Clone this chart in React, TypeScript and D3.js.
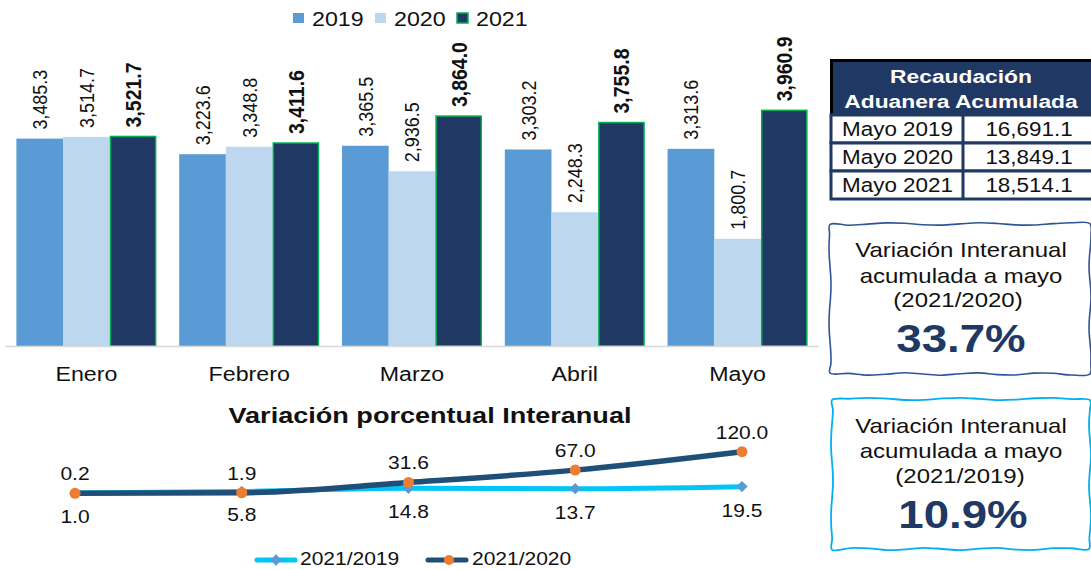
import * as d3 from "d3";

const MONTHS = ["Enero", "Febrero", "Marzo", "Abril", "Mayo"];
const YEARS = ["2019", "2020", "2021"];
const V2019 = [3485.3, 3223.6, 3365.5, 3303.2, 3313.6];
const V2020 = [3514.7, 3348.8, 2936.5, 2248.3, 1800.7];
const V2021 = [3521.7, 3411.6, 3864.0, 3755.8, 3960.9];

const VAR_2021_2019 = [1.0, 5.8, 14.8, 13.7, 19.5];
const VAR_2021_2020 = [0.2, 1.9, 31.6, 67.0, 120.0];

const TABLE_ROWS = ["Mayo 2019", "Mayo 2020", "Mayo 2021"];
const TABLE_VALUES = [16691.1, 13849.1, 18514.1];

const W = 1091;
const H = 569;
const FONT = "Arial, 'Liberation Sans', sans-serif";

const BAR_COLORS = ["#5b9bd5", "#bdd7ee", "#203864"];
const NAVY = "#203864";
const GREEN = "#00b050";
const CYAN = "#00c5f5";
const DARK_LINE = "#1f4e79";
const ORANGE = "#ed7d31";
const DIAMOND = "#5b9bd5";

const fmt = d3.format(",.1f");

// the source image is slightly stretched sideways, so text gets a horizontal scale
function T(props: {
  x: number;
  y: number;
  size: number;
  sx?: number;
  anchor?: string;
  weight?: number;
  fill?: string;
  children: any;
}) {
  const { x, y, size, sx = 1.2, anchor = "start", weight = 400, fill = "#111", children } = props;
  return (
    <text
      transform={`translate(${x},${y}) scale(${sx},1)`}
      textAnchor={anchor as any}
      fontSize={size}
      fontWeight={weight}
      fill={fill}
    >
      {children}
    </text>
  );
}

// hand-drawn looking box outline
function wavyRect(x0: number, y0: number, x1: number, y1: number, seed: number) {
  const pts: [number, number][] = [];
  const n = 14;
  for (let i = 0; i <= n; i++) pts.push([x0 + ((x1 - x0) * i) / n, y0 + Math.sin(i * 1.3 + seed) * 1.2]);
  for (let i = 1; i <= n; i++) pts.push([x1 + Math.sin(i * 1.1 + seed) * 1.0, y0 + ((y1 - y0) * i) / n]);
  for (let i = 1; i <= n; i++) pts.push([x1 - ((x1 - x0) * i) / n, y1 + Math.sin(i * 1.7 + seed) * 1.2]);
  for (let i = 1; i < n; i++) pts.push([x0 + Math.sin(i * 0.9 + seed) * 1.0, y1 - ((y1 - y0) * i) / n]);
  return d3.line().curve(d3.curveCatmullRomClosed)(pts) || "";
}

export default function App() {
  const series = [V2019, V2020, V2021];

  const x0 = d3.scaleBand().domain(MONTHS).range([5, 819]).paddingInner(0.14).paddingOuter(0.07);
  const x1 = d3.scaleBand().domain(YEARS).range([0, x0.bandwidth()]);
  const y = d3.scaleLinear().domain([0, 4500]).range([346, 78.25]);

  const xl = d3.scalePoint().domain(MONTHS).range([75, 742]);
  const yl = d3.scaleLinear().domain([0, 120]).range([493.4, 451.7]);
  const line = d3
    .line<number>()
    .x((_, i) => xl(MONTHS[i]) as number)
    .y((d) => yl(d))
    .curve(d3.curveMonotoneX);

  const rowY = d3.scaleBand().domain(TABLE_ROWS).range([115, 199]);

  return (
    <div style={{ position: "fixed", left: 0, top: 0, width: W, height: H, overflow: "hidden" }}>
      <svg width={W} height={H} style={{ display: "block", fontFamily: FONT }}>
        <rect width={W} height={H} fill="#fff" />

        {/* legend */}
        {YEARS.map((yr, i) => {
          const lx = 293 + i * 82;
          return (
            <g key={yr}>
              <rect
                x={lx}
                y={13}
                width={11}
                height={10}
                fill={BAR_COLORS[i]}
                stroke={i === 2 ? GREEN : "none"}
                strokeWidth={1.5}
              />
              <T x={lx + 19} y={26} size={20} sx={1.16}>
                {yr}
              </T>
            </g>
          );
        })}

        {/* bars */}
        {MONTHS.map((m, mi) => (
          <g key={m} transform={`translate(${x0(m)},0)`}>
            {YEARS.map((yr, yi) => {
              const v = series[yi][mi];
              const bx = x1(yr) as number;
              const bw = x1.bandwidth();
              const top = y(v);
              const cx = bx + bw / 2;
              return (
                <g key={yr}>
                  <rect
                    x={yi === 2 ? bx + 0.75 : bx}
                    y={top}
                    width={yi === 2 ? bw - 1.5 : bw}
                    height={346 - top}
                    fill={BAR_COLORS[yi]}
                    stroke={yi === 2 ? GREEN : "none"}
                    strokeWidth={1.5}
                  />
                  <text
                    transform={`translate(${cx},${top - 9}) rotate(-90) scale(1,1.15)`}
                    dominantBaseline="central"
                    fontSize={yi === 2 ? 19.5 : 18}
                    fontWeight={yi === 2 ? 700 : 400}
                    fill="#111"
                  >
                    {fmt(v)}
                  </text>
                </g>
              );
            })}
            <T x={x0.bandwidth() / 2} y={381} size={20} sx={1.16} anchor="middle">
              {m}
            </T>
          </g>
        ))}
        <line x1={5} x2={819} y1={346.5} y2={346.5} stroke="#d9d9d9" strokeWidth={1.5} />

        {/* line chart */}
        <T x={430} y={423} size={22} sx={1.23} anchor="middle" weight={700}>
          Variación porcentual Interanual
        </T>
        <path d={line(VAR_2021_2019) || ""} fill="none" stroke={CYAN} strokeWidth={5} />
        <path d={line(VAR_2021_2020) || ""} fill="none" stroke={DARK_LINE} strokeWidth={5.5} />
        {VAR_2021_2019.map((v, i) => {
          const px = xl(MONTHS[i]) as number;
          return (
            <g key={`a${i}`}>
              <rect
                x={px - 4}
                y={yl(v) - 4}
                width={8}
                height={8}
                fill={DIAMOND}
                transform={`rotate(45 ${px} ${yl(v)})`}
              />
              <T x={px} y={yl(v) + 30} size={17.5} anchor="middle">
                {v.toFixed(1)}
              </T>
            </g>
          );
        })}
        {VAR_2021_2020.map((v, i) => {
          const px = xl(MONTHS[i]) as number;
          return (
            <g key={`b${i}`}>
              <circle cx={px} cy={yl(v)} r={5.5} fill={ORANGE} />
              <T x={px} y={yl(v) - 13} size={17.5} anchor="middle">
                {v.toFixed(1)}
              </T>
            </g>
          );
        })}

        {/* line legend */}
        <line x1={257} x2={295} y1={560} y2={560} stroke={CYAN} strokeWidth={5} strokeLinecap="round" />
        <rect x={272} y={556} width={8} height={8} fill={DIAMOND} transform="rotate(45 276 560)" />
        <T x={300} y={565} size={17.5}>
          2021/2019
        </T>
        <line x1={428} x2={466} y1={560} y2={560} stroke={DARK_LINE} strokeWidth={5} strokeLinecap="round" />
        <circle cx={449} cy={560} r={5} fill={ORANGE} />
        <T x={472} y={565} size={17.5}>
          2021/2020
        </T>

        {/* table */}
        <rect x={830} y={60} width={264} height={55} fill={NAVY} />
        <path d="M831.5,115 V60.5 H1091" fill="none" stroke="#000" strokeWidth={3} />
        <T x={961} y={83} size={19} weight={700} fill="#fff" anchor="middle">
          Recaudación
        </T>
        <T x={961} y={108} size={19} weight={700} fill="#fff" anchor="middle">
          Aduanera Acumulada
        </T>
        {TABLE_ROWS.map((r, i) => {
          const ry = rowY(r) as number;
          const rh = rowY.bandwidth();
          return (
            <g key={r}>
              <rect x={831} y={ry} width={262} height={rh} fill="#fff" stroke={NAVY} strokeWidth={3} />
              <line x1={963} x2={963} y1={ry} y2={ry + rh} stroke={NAVY} strokeWidth={3} />
              <T x={897.5} y={ry + rh / 2 + 7} size={19.5} sx={1.15} anchor="middle">
                {r}
              </T>
              <T x={1029} y={ry + rh / 2 + 7} size={19.5} sx={1.15} anchor="middle">
                {fmt(TABLE_VALUES[i])}
              </T>
            </g>
          );
        })}

        {/* summary boxes */}
        <path d={wavyRect(830, 224, 1090, 374, 0.4)} fill="#fff" stroke="#2f5597" strokeWidth={1.6} />
        <T x={961} y={257} size={20} anchor="middle">
          Variación Interanual
        </T>
        <T x={961} y={283} size={20} anchor="middle">
          acumulada a mayo
        </T>
        <T x={958} y={307} size={20} anchor="middle">
          (2021/2020)
        </T>
        <T x={961} y={352} size={38} weight={700} fill={NAVY} anchor="middle">
          33.7%
        </T>

        <path d={wavyRect(832, 399, 1090, 549, 2.1)} fill="#fff" stroke="#00b0f0" strokeWidth={1.8} />
        <T x={961} y={433} size={20} anchor="middle">
          Variación Interanual
        </T>
        <T x={961} y={458} size={20} anchor="middle">
          acumulada a mayo
        </T>
        <T x={960} y={483} size={20} anchor="middle">
          (2021/2019)
        </T>
        <T x={963} y={528} size={38} weight={700} fill={NAVY} anchor="middle">
          10.9%
        </T>
      </svg>
    </div>
  );
}
